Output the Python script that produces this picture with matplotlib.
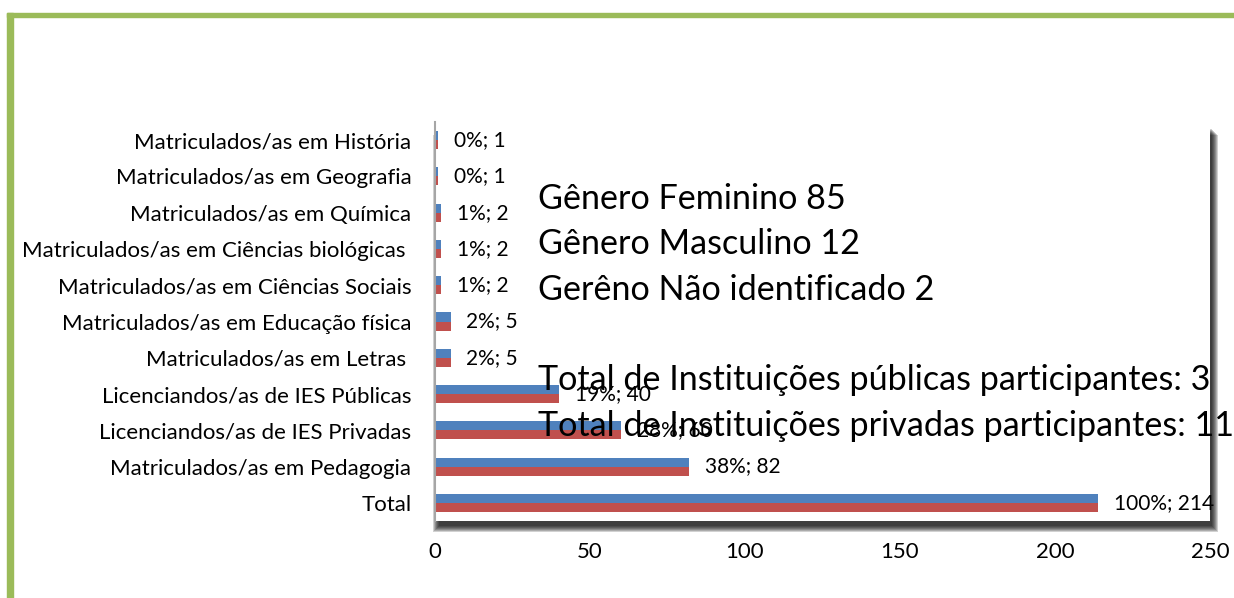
import numpy as np
import matplotlib.pyplot as plt
from matplotlib.patches import Rectangle

plt.rcParams['font.family'] = ['Lato', 'DejaVu Sans']

# dados (de cima para baixo)
categorias = ["Matriculados/as em História", "Matriculados/as em Geografia",
              "Matriculados/as em Química", "Matriculados/as em Ciências biológicas ",
              "Matriculados/as em Ciências Sociais", "Matriculados/as em Educação física",
              "Matriculados/as em Letras ", "Licenciandos/as de IES Públicas",
              "Licenciandos/as de IES Privadas", "Matriculados/as em Pedagogia", "Total"]
valores = [1, 1, 2, 2, 2, 5, 5, 40, 60, 82, 214]
rotulos = ["0%; 1", "0%; 1", "1%; 2", "1%; 2", "1%; 2", "2%; 5", "2%; 5",
           "19%; 40", "28%; 60", "38%; 82", "100%; 214"]
notas = ["Gênero Feminino 85", "Gênero Masculino 12", "Gerêno Não identificado 2", "",
         "Total de Instituições públicas participantes: 3",
         "Total de Instituições privadas participantes: 11"]

W, H = 1234, 598
fig = plt.figure(figsize=(W / 100, H / 100), dpi=100)

def fx(px):
    return px / W

def fy(py):
    return 1 - py / H

# moldura verde
verde = '#9BBB59'
fig.add_artist(Rectangle((fx(7), 0), fx(6), fy(13), color=verde, zorder=-2))
fig.add_artist(Rectangle((fx(7), fy(17)), 1, fy(13) - fy(17), color=verde, zorder=-2))

x0, x1, y0, y1 = 435, 1210, 122, 521
ax = fig.add_axes([fx(x0), fy(y1), fx(x1) - fx(x0), (y1 - y0) / H])

# sombra da área de plotagem
for k in range(7):
    g = k - 3
    fig.add_artist(Rectangle((fx(x0 + 1 - g), fy(y1 + 8 + g)),
                             fx(x1 - x0 + 4 + 2 * g), (y1 - y0 - 2) / H,
                             color='black', alpha=0.18, lw=0, zorder=-1))

y = np.arange(len(categorias))
h = 0.25
ax.barh(y - h / 2, valores, height=h, color='#4F81BD')
ax.barh(y + h / 2, valores, height=h, color='#C0504D')
for i, (v, t) in enumerate(zip(valores, rotulos)):
    ax.annotate(t, xy=(v, i), xytext=(11.5, 0), textcoords='offset points',
                va='center', ha='left', fontsize=15, color='black')

ax.set_xlim(0, 250)
ax.set_ylim(len(categorias) - 0.5, -0.5)
ax.set_xticks(range(0, 251, 50))
ax.set_yticks(y)
ax.set_yticklabels(categorias)
ax.tick_params(length=0, labelsize=16)
ax.tick_params(axis='x', pad=15)
ax.tick_params(axis='y', pad=17)
for s in ['top', 'right', 'bottom']:
    ax.spines[s].set_visible(False)
ax.spines['left'].set_color('#A6A6A6')
ax.spines['left'].set_linewidth(1.5)

# caixa de texto
yy = 199
for linha in notas:
    fig.text(fx(538), fy(yy), linha, fontsize=24.6, va='center', ha='left', color='black')
    yy += 45.3

fig.savefig('out.png', dpi=100, facecolor='white')
